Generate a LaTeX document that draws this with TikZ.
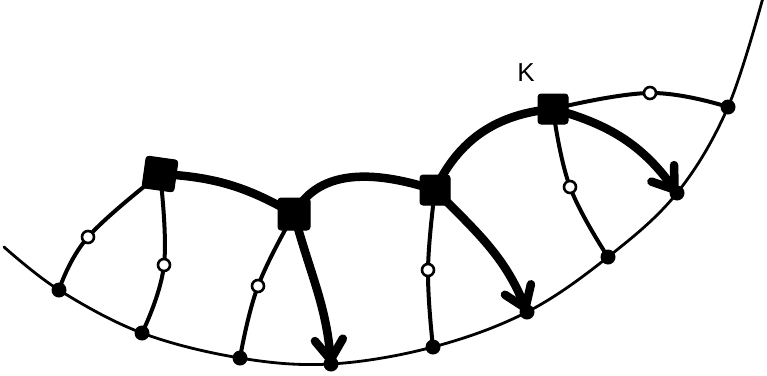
\documentclass[tikz,border=0pt]{standalone}
\usepackage{fontspec}
\setsansfont{Liberation Sans}
\usetikzlibrary{arrows.meta,backgrounds}
\begin{document}
\begin{tikzpicture}[x=1pt,y=-1pt,
  sqnode/.style={shape=rectangle,fill=black,draw=black,line width=1pt,rounded corners=3pt,minimum size=30pt,inner sep=0pt},
  dotb/.style={circle,fill=black,minimum size=15pt,inner sep=0pt},
  dotw/.style={circle,fill=white,draw=black,line width=2.6pt,minimum size=12pt,inner sep=0pt},
  lnthin/.style={line width=4pt,line cap=round,line join=round},
  lnbound/.style={line width=2.8pt,line cap=round},
  lnthick/.style={line width=8.5pt,line cap=round,line join=round},
  arr/.style={lnthick,-{Straight Barb[length=20pt,width=28pt,line cap=round,line join=round]}},
  lab/.style={font=\sffamily\fontsize{26}{30}\selectfont,inner sep=0pt}
]
\useasboundingbox (0,0) rectangle (767,375);
\clip (0,0) rectangle (767,375);

% boundary dots
\node[dotb] (b1) at (59,290) {};
\node[dotb] (b2) at (142,333) {};
\node[dotb] (b3) at (240,358) {};
\node[dotb] (b4) at (331,364) {};
\node[dotb] (b5) at (433,347) {};
\node[dotb] (b6) at (527,312) {};
\node[dotb] (b7) at (608,257) {};
\node[dotb] (b8) at (677,193) {};
\node[dotb] (b9) at (728,107) {};
\coordinate (bs) at (4,247);
\coordinate (be) at (764,-6);

% squares
\node[sqnode,minimum size=32pt,rotate=-8] (s1) at (160,174) {};
\node[sqnode,minimum size=32pt] (s2) at (294,214) {};
\node[sqnode] (s3) at (435,190) {};
\node[sqnode] (s4) at (553,109) {};

% white circles
\node[dotw] (w1) at (88,237) {};
\node[dotw] (w2) at (164,265) {};
\node[dotw] (w3) at (258,286) {};
\node[dotw] (w4) at (428,270) {};
\node[dotw] (w5) at (570,187) {};
\node[dotw] (w6) at (650,93) {};

% label
\node[lab] (k) at (526,73) {K};

\begin{pgfonlayer}{background}
  % boundary curve
  \draw[lnbound] plot[smooth,tension=0.6] coordinates {(bs) (b1) (b2) (b3) (b4) (b5) (b6) (b7) (b8) (b9) (be)};
  % thin connectors
  \draw[lnthin] plot[smooth,tension=0.7] coordinates {(b1.center) (w1.center) (s1.center)};
  \draw[lnthin] plot[smooth,tension=0.7] coordinates {(s1.center) (w2.center) (b2.center)};
  \draw[lnthin] plot[smooth,tension=0.7] coordinates {(s2.center) (w3.center) (b3.center)};
  \draw[lnthin] plot[smooth,tension=0.7] coordinates {(s3.center) (w4.center) (b5.center)};
  \draw[lnthin] plot[smooth,tension=0.7] coordinates {(s4.center) (w5.center) (b7.center)};
  \draw[lnthin] plot[smooth,tension=0.7] coordinates {(s4.center) (w6.center) (b9.center)};
  % thick connectors
  \draw[lnthick] (s1.center) to[out=-3,in=150] (s2.center);
  \draw[lnthick] (s2.center) to[out=62,in=162] (s3.center);
  \draw[lnthick] (s3.center) to[out=65,in=185] (s4.center);
  % thick arrows
  \draw[arr] (s2.center) to[out=-75,in=95] (b4.center);
  \draw[arr] (s3.center) to[out=-45,in=112] (b6.center);
  \draw[arr] (s4.center) to[out=-15,in=126] (b8.center);
\end{pgfonlayer}
\end{tikzpicture}
\end{document}
